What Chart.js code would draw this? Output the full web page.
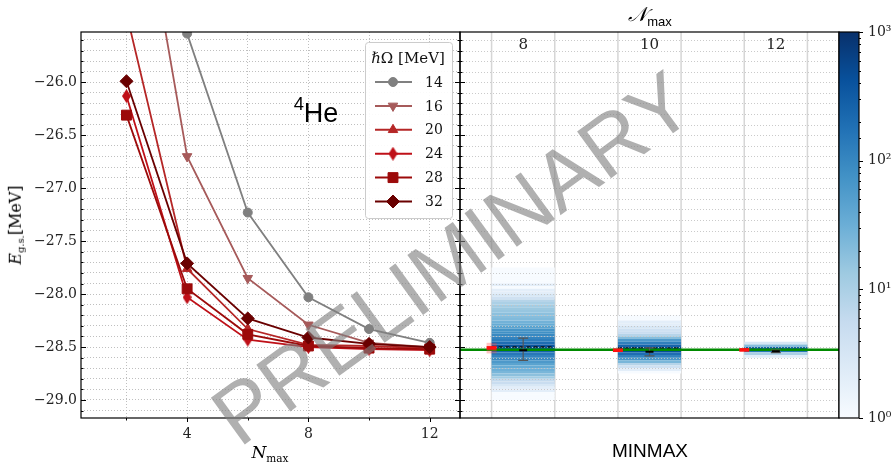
<!DOCTYPE html>
<html lang="en">
<head>
    <meta charset="UTF-8">
    <title>4He ground-state energy vs Nmax</title>
    <script src="https://cdn.jsdelivr.net/npm/chart.js"></script>
    <style>
        body { margin: 0; background: #fff; }
        #wrap { position: relative; width: 894px; height: 466px; overflow: hidden; }
        #wrap canvas { position: absolute; left: 0; top: 0; }
        .txt { position: absolute; white-space: nowrap; color: #000; transform: translate(-50%, -50%); line-height: 1; }
        .serif { font-family: "DejaVu Serif", serif; }
        .sans { font-family: "Liberation Sans", Arial, sans-serif; }
        sub { font-size: 0.62em; vertical-align: -0.35em; }
        sup { font-size: 0.68em; vertical-align: 0.6em; }
        #watermark {
            font-size: 84px;
            color: rgba(128, 128, 128, 0.62);
            transform: translate(-50%, -50%) rotate(-36deg);
        }
    </style>
</head>
<body>
<div id="wrap">
    <canvas id="histChart" width="894" height="466"></canvas>
    <canvas id="convChart" width="894" height="466"></canvas>
    <canvas id="cbarChart" width="894" height="466"></canvas>
    <div class="txt serif" style="left:270px; top:454px; font-size:17px;"><i>N</i><sub>max</sub></div>
    <div class="txt serif" style="left:17px; top:225px; font-size:16px; transform: translate(-50%, -50%) rotate(-90deg);"><i>E</i><sub>g.s.</sub>[MeV]</div>
    <div class="txt sans" style="left:316px; top:111px; font-size:27px;"><sup>4</sup>He</div>
    <div class="txt sans" style="left:650px; top:16px; font-size:20px;"><span class="serif" style="font-style:italic;">𝒩</span><sub style="font-size:13px;">max</sub></div>
    <div class="txt sans" style="left:650px; top:450px; font-size:19px;">MINMAX</div>
    <div class="txt sans" id="watermark" style="left:452px; top:258px;">PRELIMINARY</div>
</div>

<script>
    // ---- left panel: E_gs vs Nmax for several hbar*Omega ----
    const nmaxVals = [2, 4, 6, 8, 10, 12];
    const xTickVals = [2, 4, 6, 8, 10, 12];
    const xTickLabels = ['', '4', '', '8', '', '12'];

    const hwLabels = ['14', '16', '20', '24', '28', '32'];
    const e14 = [null, -25.54, -27.23, -28.03, -28.33, -28.46];
    const e16 = [-23.4, -26.70, -27.85, -28.29, -28.46, -28.50];
    const e20 = [-25.35, -27.76, -28.33, -28.48, -28.49, -28.51];
    const e24 = [-26.13, -28.03, -28.43, -28.50, -28.52, -28.53];
    const e28 = [-26.31, -27.95, -28.38, -28.49, -28.51, -28.52];
    const e32 = [-25.99, -27.71, -28.23, -28.41, -28.47, -28.50];

    // ---- right panel: MINMAX histograms per Nmax ----
    const nmaxCatPos = [0, 1, 2];
    const nmaxCatLabels = ['8', '10', '12'];
    const binWidth = 0.025;
    const edges8 = [-27.775, -27.800, -27.825, -27.850, -27.875, -27.900, -27.925, -27.950, -27.975, -28.000,
                    -28.025, -28.050, -28.075, -28.100, -28.125, -28.150, -28.175, -28.200, -28.225, -28.250,
                    -28.275, -28.300, -28.325, -28.350, -28.375, -28.400, -28.425, -28.450, -28.475, -28.500,
                    -28.525, -28.550, -28.575, -28.600, -28.625, -28.650, -28.675, -28.700, -28.725, -28.750,
                    -28.775, -28.800, -28.825, -28.850, -28.875, -28.900, -28.925, -28.950, -28.975, -29.000];
    const counts8 = [1, 1, 1, 1, 1, 1, 2, 1, 2, 2,
                     3, 4, 8, 10, 12, 14, 15, 18, 20, 22,
                     28, 35, 45, 70, 80, 95, 110, 130, 200, 380,
                     420, 250, 150, 110, 90, 60, 45, 35, 30, 25,
                     18, 12, 6, 5, 3, 2, 2, 1, 1, 1];
    const edges10 = [-28.225, -28.250, -28.275, -28.300, -28.325, -28.350, -28.375, -28.400, -28.425, -28.450, -28.475,
                     -28.500, -28.525, -28.550, -28.575, -28.600, -28.625, -28.650, -28.675, -28.700, -28.725, -28.750];
    const counts10 = [1, 1, 2, 2, 3, 4, 5, 8, 20, 60, 120, 250, 500, 450, 200, 110, 60, 25, 8, 4, 2, 1];
    const edges12 = [-28.475, -28.500, -28.525, -28.550, -28.575, -28.600];
    const counts12 = [3, 20, 250, 150, 10, 2];

    const gfmcRef = -28.526;                        // green reference line
    const errMid = [-28.53, -28.545, -28.54];
    const errLow = [-28.625, -28.583, -28.552];
    const errHigh = [-28.416, -28.508, -28.528];
    const meanVals = [-28.499, -28.51, -28.522];     // dashed black
    const redVals = [-28.508, -28.53, -28.527];
    const redSpreadLow = [-28.56, null, null];
    const redSpreadHigh = [-28.46, null, null];

    // ---- colorbar ----
    const cbTickVals = [1, 10, 100, 1000];
    const cbTickLabels = ['10⁰', '10¹', '10²', '10³'];

    const yMin = -29.17, yMax = -25.525;

    Chart.defaults.font.family = '"DejaVu Serif", serif';
    Chart.defaults.color = '#222';

    const blues = ['#f7fbff', '#deebf7', '#c6dbef', '#9ecae1', '#6baed6', '#4292c6', '#2171b5', '#08519c', '#08306b'];
    function hexRgb(h) { return [1, 3, 5].map(i => parseInt(h.substr(i, 2), 16)); }
    function bluesColor(t) {
        t = Math.max(0, Math.min(1, t));
        const p = t * 8, i = Math.min(7, Math.floor(p)), f = p - i;
        const a = hexRgb(blues[i]), b = hexRgb(blues[i + 1]);
        const c = a.map((v, k) => Math.round(v + (b[k] - v) * f));
        return 'rgb(' + c.join(',') + ')';
    }

    function onStep(v, step) {
        const q = v / step;
        return Math.abs(q - Math.round(q)) < 1e-6;
    }
    function fmtY(v) {
        return v.toFixed(1).replace('-', '\u2212');
    }

    // thin diamond marker for 24 MeV
    function thinDiamond(color) {
        const c = document.createElement('canvas');
        c.width = 9; c.height = 14;
        const g = c.getContext('2d');
        g.fillStyle = color;
        g.beginPath();
        g.moveTo(4.5, 0); g.lineTo(9, 7); g.lineTo(4.5, 14); g.lineTo(0, 7);
        g.closePath();
        g.fill();
        return c;
    }

    const hwSeries = [e14, e16, e20, e24, e28, e32];
    const hwColors = ['#808080', '#a65a5a', '#b52626', '#bf1018', '#9c0a0a', '#6a0000'];
    const hwStyles = ['circle', 'triangle', 'triangle', thinDiamond('#bf1018'), 'rect', 'rectRot'];
    const hwRot = [0, 180, 0, 0, 0, 0];
    const hwRadius = [4.5, 5.5, 5.5, 6, 7, 6.5];

    // frame + inward ticks + legend for the left panel
    const leftDecor = {
        id: 'leftDecor',
        afterDatasetsDraw(chart) {
            const { ctx, chartArea: a, scales: { x, y } } = chart;
            ctx.save();
            ctx.strokeStyle = '#000';
            ctx.lineWidth = 1;
            ctx.beginPath();
            y.ticks.forEach(t => {
                if (!onStep(t.value, 0.1)) return;
                const len = onStep(t.value, 0.5) ? 5 : 2.5;
                const py = Math.round(y.getPixelForValue(t.value)) + 0.5;
                ctx.moveTo(a.left, py); ctx.lineTo(a.left + len, py);
                ctx.moveTo(a.right - len, py); ctx.lineTo(a.right, py);
            });
            x.ticks.forEach(t => {
                const len = xTickLabels[xTickVals.indexOf(t.value)] ? 4 : 2.5;
                const px = Math.round(x.getPixelForValue(t.value)) + 0.5;
                ctx.moveTo(px, a.bottom); ctx.lineTo(px, a.bottom + len);
            });
            ctx.stroke();

            // legend
            const bx = a.right - 95, by = a.top + 10, bw = 87, bh = 176;
            ctx.fillStyle = 'rgba(255,255,255,0.92)';
            ctx.strokeStyle = '#cccccc';
            ctx.beginPath();
            ctx.roundRect(bx + 0.5, by + 0.5, bw, bh, 3);
            ctx.fill();
            ctx.stroke();
            ctx.fillStyle = '#111';
            ctx.font = '15px "DejaVu Serif"';
            ctx.textAlign = 'center';
            ctx.textBaseline = 'middle';
            ctx.fillText('ℏΩ [MeV]', bx + 43, by + 17);
            ctx.font = '14px "DejaVu Serif"';
            ctx.textAlign = 'left';
            chart.data.datasets.forEach((ds, i) => {
                const ly = by + 40 + i * 23.9;
                ctx.strokeStyle = ds.borderColor;
                ctx.lineWidth = 2;
                ctx.beginPath();
                ctx.moveTo(bx + 10, ly); ctx.lineTo(bx + 47, ly);
                ctx.stroke();
                ctx.fillStyle = ds.pointBackgroundColor;
                ctx.strokeStyle = ds.pointBackgroundColor;
                ctx.lineWidth = 1;
                Chart.helpers.drawPoint(ctx, {
                    pointStyle: ds.pointStyle, rotation: ds.pointRotation,
                    radius: ds.pointRadius, borderWidth: 1
                }, bx + 28, ly);
                ctx.fillStyle = '#111';
                ctx.fillText(ds.label, bx + 60, ly + 1);
            });

            ctx.strokeStyle = '#000';
            ctx.lineWidth = 1.2;
            ctx.strokeRect(a.left, a.top, a.right - a.left, a.bottom - a.top);
            ctx.restore();
        }
    };

    new Chart(document.getElementById('convChart'), {
        type: 'line',
        data: {
            datasets: hwSeries.map((s, i) => ({
                label: hwLabels[i],
                data: nmaxVals.map((n, j) => ({ x: n, y: s[j] })),
                borderColor: hwColors[i],
                backgroundColor: hwColors[i],
                pointBackgroundColor: hwColors[i],
                pointBorderColor: hwColors[i],
                pointStyle: hwStyles[i],
                pointRotation: hwRot[i],
                pointRadius: hwRadius[i],
                pointBorderWidth: 1,
                borderWidth: 1.8,
                tension: 0,
                order: hwSeries.length - i
            }))
        },
        options: {
            responsive: false,
            animation: false,
            layout: { padding: { left: 0, top: 32, right: 434, bottom: 0 } },
            plugins: { legend: { display: false }, tooltip: { enabled: false } },
            scales: {
                x: {
                    type: 'linear', min: 0.5, max: 13,
                    afterBuildTicks: s => { s.ticks = xTickVals.map(v => ({ value: v })); },
                    afterFit: s => { s.height = 48; },
                    ticks: {
                        autoSkip: false, maxRotation: 0, padding: 8, font: { size: 14 },
                        callback: v => xTickLabels[xTickVals.indexOf(v)]
                    },
                    grid: { color: '#b8b8b8', lineWidth: 0.9, drawTicks: false },
                    border: { display: false, dash: [1, 2] }
                },
                y: {
                    min: yMin, max: yMax,
                    afterFit: s => { s.width = 81; },
                    ticks: {
                        stepSize: 0.1, includeBounds: false, autoSkip: false, padding: 4, font: { size: 14 },
                        callback: v => onStep(v, 0.5) ? fmtY(v) : ''
                    },
                    grid: { color: '#b8b8b8', lineWidth: 0.9, drawTicks: false },
                    border: { display: false, dash: [1, 2] }
                }
            }
        },
        plugins: [leftDecor]
    });

    // ---- right panel ----
    const histPoints = [], histColors = [];
    [[edges8, counts8], [edges10, counts10], [edges12, counts12]].forEach(([edges, counts], k) => {
        edges.forEach((lo, j) => {
            histPoints.push({ x: nmaxCatPos[k], y: [lo, lo + binWidth] });
            histColors.push(bluesColor(Math.log10(counts[j]) / 3));
        });
    });

    const bandHalf = 0.25;
    const rightDecor = {
        id: 'rightDecor',
        beforeDatasetsDraw(chart) {
            const { ctx, chartArea: a, scales: { x } } = chart;
            ctx.save();
            ctx.strokeStyle = '#d6d6d6';
            ctx.lineWidth = 1.5;
            ctx.beginPath();
            nmaxCatPos.forEach(c => {
                [c - bandHalf, c + bandHalf].forEach(v => {
                    const px = x.getPixelForValue(v);
                    ctx.moveTo(px, a.top); ctx.lineTo(px, a.bottom);
                });
            });
            ctx.stroke();
            ctx.restore();
        },
        afterDatasetDraw(chart, args) {
            if (args.index !== 0) return;
            const { ctx, chartArea: a, scales: { x, y } } = chart;
            ctx.save();
            // dotted grid over the histogram
            ctx.strokeStyle = '#c4c4c4';
            ctx.lineWidth = 0.9;
            ctx.setLineDash([1, 2]);
            ctx.beginPath();
            y.ticks.forEach(t => {
                if (!onStep(t.value, 0.1)) return;
                const py = Math.round(y.getPixelForValue(t.value)) + 0.5;
                ctx.moveTo(a.left, py); ctx.lineTo(a.right, py);
            });
            ctx.stroke();
            // dashed mean lines
            ctx.strokeStyle = '#111';
            ctx.lineWidth = 1.2;
            ctx.setLineDash([4, 3]);
            ctx.beginPath();
            meanVals.forEach((m, i) => {
                const py = y.getPixelForValue(m);
                ctx.moveTo(x.getPixelForValue(nmaxCatPos[i] - bandHalf), py);
                ctx.lineTo(x.getPixelForValue(nmaxCatPos[i] + bandHalf), py);
            });
            ctx.stroke();
            ctx.restore();
        },
        afterDatasetsDraw(chart) {
            const { ctx, chartArea: a, scales: { x, y } } = chart;
            ctx.save();
            // red reference marks at the left of each band
            nmaxCatPos.forEach((c, i) => {
                const x0 = x.getPixelForValue(c - bandHalf) - 5;
                if (redSpreadLow[i] !== null) {
                    ctx.fillStyle = 'rgba(255,60,60,0.3)';
                    const t = y.getPixelForValue(redSpreadHigh[i]), b = y.getPixelForValue(redSpreadLow[i]);
                    ctx.fillRect(x0, t, 10, b - t);
                }
                ctx.fillStyle = '#ff1010';
                ctx.fillRect(x0, y.getPixelForValue(redVals[i]) - 1.8, 10, 3.6);
            });
            // error bars
            ctx.strokeStyle = '#555';
            ctx.lineWidth = 1.2;
            ctx.beginPath();
            nmaxCatPos.forEach((c, i) => {
                const px = x.getPixelForValue(c);
                const t = y.getPixelForValue(errHigh[i]), b = y.getPixelForValue(errLow[i]);
                ctx.moveTo(px, t); ctx.lineTo(px, b);
                ctx.moveTo(px - 5, t); ctx.lineTo(px + 5, t);
                ctx.moveTo(px - 5, b); ctx.lineTo(px + 5, b);
            });
            ctx.stroke();
            ctx.strokeStyle = '#000';
            ctx.lineWidth = 2;
            ctx.beginPath();
            nmaxCatPos.forEach((c, i) => {
                const px = x.getPixelForValue(c), py = y.getPixelForValue(errMid[i]);
                ctx.moveTo(px - 4, py); ctx.lineTo(px + 4, py);
            });
            ctx.stroke();
            // inward y ticks + frame
            ctx.strokeStyle = '#000';
            ctx.lineWidth = 1;
            ctx.beginPath();
            y.ticks.forEach(t => {
                if (!onStep(t.value, 0.1)) return;
                const len = onStep(t.value, 0.5) ? 5 : 2.5;
                const py = Math.round(y.getPixelForValue(t.value)) + 0.5;
                ctx.moveTo(a.left, py); ctx.lineTo(a.left + len, py);
            });
            ctx.stroke();
            ctx.lineWidth = 1.2;
            ctx.strokeRect(a.left, a.top, a.right - a.left, a.bottom - a.top);
            // Nmax category labels inside the top of the panel
            ctx.fillStyle = '#222';
            ctx.font = '15px "DejaVu Serif"';
            ctx.textAlign = 'center';
            ctx.textBaseline = 'middle';
            x.ticks.forEach(t => {
                const i = nmaxCatPos.indexOf(t.value);
                if (i >= 0) ctx.fillText(nmaxCatLabels[i], x.getPixelForValue(t.value), a.top + 13);
            });
            ctx.restore();
        }
    };

    new Chart(document.getElementById('histChart'), {
        type: 'bar',
        data: {
            datasets: [
                {
                    type: 'bar', data: histPoints, backgroundColor: histColors, borderWidth: 0,
                    barPercentage: 0.5, categoryPercentage: 1, grouped: false, order: 10
                },
                {
                    type: 'line', data: [{ x: -0.5, y: gfmcRef }, { x: 2.5, y: gfmcRef }],
                    borderColor: '#008a00', borderWidth: 2.5, pointRadius: 0, order: 2
                }
            ]
        },
        options: {
            responsive: false,
            animation: false,
            layout: { padding: { left: 460, right: 55, top: 0, bottom: 48 } },
            plugins: { legend: { display: false }, tooltip: { enabled: false } },
            scales: {
                x: {
                    type: 'linear', position: 'top', min: -0.5, max: 2.5, offset: false,
                    afterBuildTicks: s => { s.ticks = nmaxCatPos.map(v => ({ value: v })); },
                    afterFit: s => { s.height = 32; },
                    ticks: { display: false, autoSkip: false },
                    grid: { display: false, drawTicks: false, offset: false },
                    border: { display: false }
                },
                y: {
                    min: yMin, max: yMax,
                    afterFit: s => { s.width = 0; },
                    ticks: { display: false, stepSize: 0.1, includeBounds: false, autoSkip: false },
                    grid: { display: false, drawTicks: false },
                    border: { display: false }
                }
            }
        },
        plugins: [rightDecor]
    });

    // ---- colorbar ----
    const cbarDecor = {
        id: 'cbarDecor',
        afterDatasetsDraw(chart) {
            const { ctx, chartArea: a, scales: { y } } = chart;
            ctx.save();
            ctx.strokeStyle = '#000';
            ctx.lineWidth = 1;
            ctx.beginPath();
            y.ticks.forEach(t => {
                const lg = Math.log10(t.value);
                const len = Math.abs(lg - Math.round(lg)) < 1e-9 ? 4 : 2;
                const py = Math.round(y.getPixelForValue(t.value)) + 0.5;
                ctx.moveTo(a.right, py); ctx.lineTo(a.right + len, py);
            });
            ctx.stroke();
            ctx.lineWidth = 1.2;
            ctx.strokeRect(a.left, a.top, a.right - a.left, a.bottom - a.top);
            ctx.restore();
        }
    };

    new Chart(document.getElementById('cbarChart'), {
        type: 'bar',
        data: {
            labels: ['counts'],
            datasets: [{
                data: [[cbTickVals[0], cbTickVals[cbTickVals.length - 1]]],
                borderWidth: 0, barPercentage: 1, categoryPercentage: 1,
                backgroundColor: (c) => {
                    const area = c.chart.chartArea;
                    if (!area) return blues[4];
                    const g = c.chart.ctx.createLinearGradient(0, area.bottom, 0, area.top);
                    blues.forEach((col, i) => g.addColorStop(i / (blues.length - 1), col));
                    return g;
                }
            }]
        },
        options: {
            responsive: false,
            animation: false,
            layout: { padding: { left: 839, right: 0, top: 32, bottom: 48 } },
            plugins: { legend: { display: false }, tooltip: { enabled: false } },
            scales: {
                x: { display: false },
                y: {
                    type: 'logarithmic', position: 'right',
                    min: cbTickVals[0], max: cbTickVals[cbTickVals.length - 1],
                    afterFit: s => { s.width = 35; },
                    ticks: {
                        autoSkip: false, padding: 9, font: { size: 14 },
                        callback: v => {
                            const i = cbTickVals.indexOf(v);
                            return i >= 0 ? cbTickLabels[i] : '';
                        }
                    },
                    grid: { display: false, drawTicks: false },
                    border: { display: false }
                }
            }
        },
        plugins: [cbarDecor]
    });
</script>
</body>
</html>
